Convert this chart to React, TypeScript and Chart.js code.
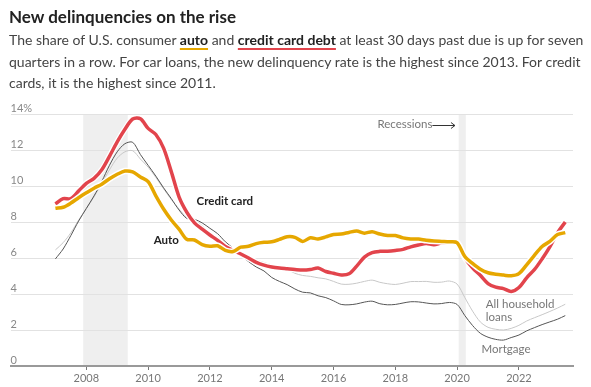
import React, { useEffect, useRef } from "react";
import { Chart, registerables } from "chart.js";

Chart.register(...registerables);

// Quarterly, 2007 Q1 .. 2023 Q3
const startYear = 2007;
const creditCard = [
  9.0, 9.3, 9.3, 9.72, 10.15, 10.42, 10.9, 11.65, 12.45, 13.15, 13.72, 13.74,
  13.2, 12.86, 12.1, 10.8, 9.4, 8.55, 7.95, 7.6, 7.28, 6.98, 6.64, 6.42,
  6.22, 6.0, 5.76, 5.6, 5.5, 5.44, 5.4, 5.36, 5.33, 5.36, 5.44, 5.25,
  5.15, 5.06, 5.12, 5.55, 6.05, 6.3, 6.37, 6.38, 6.42, 6.48, 6.62, 6.72,
  6.8, 6.74, 6.84, 6.86, 6.82, 6.0, 5.46, 5.04, 4.58, 4.38, 4.3, 4.14,
  4.36, 4.9, 5.35, 5.95, 6.62, 7.4, 8.0,
];
const auto = [
  8.76, 8.82, 9.05, 9.35, 9.62, 9.88, 10.1, 10.4, 10.65, 10.83, 10.78, 10.5,
  10.24, 9.45, 8.72, 8.11, 7.6, 7.04, 7.0, 6.74, 6.65, 6.68, 6.42, 6.36,
  6.6, 6.65, 6.8, 6.87, 6.9, 7.03, 7.18, 7.15, 6.92, 7.12, 7.06, 7.17,
  7.31, 7.33, 7.42, 7.5, 7.38, 7.46, 7.33, 7.25, 7.25, 7.12, 7.06, 7.05,
  6.98, 6.94, 6.92, 6.9, 6.85, 6.08, 5.7, 5.38, 5.18, 5.1, 5.05, 5.01,
  5.13, 5.62, 6.15, 6.64, 6.92, 7.3, 7.41,
];
const mortgage = [
  5.95, 6.5, 7.25, 8.05, 8.75, 9.45, 10.25, 11.15, 11.9, 12.35, 12.43, 11.75,
  11.15, 10.55, 9.9, 9.3, 8.67, 8.2, 8.15, 7.95, 7.65, 7.35, 6.9, 6.55,
  6.15, 5.8, 5.5, 5.28, 4.92, 4.7, 4.52, 4.28, 4.1, 4.06, 3.9, 3.8,
  3.62, 3.42, 3.4, 3.45, 3.55, 3.6, 3.46, 3.4, 3.42, 3.5, 3.57, 3.56,
  3.5, 3.45, 3.47, 3.53, 3.42, 2.8, 2.25, 1.82, 1.6, 1.48, 1.44, 1.58,
  1.72, 1.95, 2.13, 2.3, 2.45, 2.6, 2.8,
];
const allHousehold = [
  6.45, 6.85, 7.4, 8.1, 8.75, 9.4, 10.15, 10.9, 11.55, 11.9, 11.96, 11.5,
  11.05, 10.48, 9.85, 9.25, 8.72, 8.26, 8.1, 7.8, 7.4, 7.05, 6.75, 6.5,
  6.22, 6.05, 5.89, 5.75, 5.62, 5.48, 5.36, 5.15, 5.03, 4.98, 4.9, 4.84,
  4.7, 4.55, 4.54, 4.6, 4.7, 4.77, 4.65, 4.57, 4.53, 4.6, 4.69, 4.69,
  4.7, 4.65, 4.66, 4.72, 4.55, 3.8, 3.05, 2.45, 2.15, 2.04, 2.0, 2.09,
  2.26, 2.5, 2.68, 2.85, 3.03, 3.22, 3.43,
];
const xTickYears = [2008, 2010, 2012, 2014, 2016, 2018, 2020, 2022];
const yTickValues = [0, 2, 4, 6, 8, 10, 12, 14];
const recessionStarts = [2007.9, 2020.05];
const recessionEnds = [2009.34, 2020.28];

const annotations = [
  { text: "Credit card", x: 2011.57, y: 9.15, bold: true, color: "#222" },
  { text: "Auto", x: 2010.18, y: 7.0, bold: true, color: "#222" },
  { text: "Recessions", x: 2017.42, y: 13.44, bold: false, color: "#777" },
  { text: "All household", x: 2020.93, y: 3.44, bold: false, color: "#777" },
  { text: "loans", x: 2020.93, y: 2.69, bold: false, color: "#777" },
  { text: "Mortgage", x: 2020.79, y: 0.92, bold: false, color: "#777" },
];
const arrowFrom = 2019.2;
const arrowTo = 2019.93;
const arrowY = 13.4;

const FONT = "Lato, 'Noto Sans', sans-serif";

const toPoints = (arr: number[]) => arr.map((v, i) => ({ x: startYear + i / 4, y: v }));

const recessionPlugin = {
  id: "recessions",
  beforeDraw(chart: any) {
    const { ctx, chartArea, scales } = chart;
    ctx.save();
    ctx.fillStyle = "#efefef";
    recessionStarts.forEach((s, i) => {
      const x0 = scales.x.getPixelForValue(s);
      const x1 = scales.x.getPixelForValue(recessionEnds[i]);
      ctx.fillRect(x0, chartArea.top, x1 - x0, chartArea.bottom - chartArea.top);
    });
    ctx.restore();
  },
};

const annotationPlugin = {
  id: "annots",
  afterDatasetsDraw(chart: any) {
    const { ctx, scales } = chart;
    ctx.save();
    ctx.textBaseline = "middle";
    ctx.textAlign = "left";
    annotations.forEach((a) => {
      ctx.font = `${a.bold ? "bold " : ""}11.5px ${FONT}`;
      ctx.fillStyle = a.color;
      ctx.fillText(a.text, scales.x.getPixelForValue(a.x), scales.y.getPixelForValue(a.y));
    });
    const ax0 = scales.x.getPixelForValue(arrowFrom);
    const ax1 = scales.x.getPixelForValue(arrowTo);
    const ay = Math.round(scales.y.getPixelForValue(arrowY)) + 0.5;
    ctx.strokeStyle = "#333";
    ctx.lineWidth = 1;
    ctx.beginPath();
    ctx.moveTo(ax0, ay);
    ctx.lineTo(ax1, ay);
    ctx.moveTo(ax1 - 4, ay - 3);
    ctx.lineTo(ax1, ay);
    ctx.lineTo(ax1 - 4, ay + 3);
    ctx.stroke();
    ctx.restore();
  },
};

export default function App() {
  const ref = useRef<HTMLCanvasElement | null>(null);
  useEffect(() => {
    document.body.style.margin = "0";
    if (!ref.current) return;
    const line = (data: number[], color: string, width: number, order: number) => ({
      data: toPoints(data),
      borderColor: color,
      borderWidth: width,
      pointRadius: 0,
      tension: 0.3,
      fill: false,
      order,
    });
    const chart = new Chart(ref.current, {
      type: "line",
      data: {
        datasets: [
          line(auto, "#e6a700", 3.5, 1),
          line(auto, "#ffffff", 6.5, 2),
          line(creditCard, "#e2444c", 3.5, 3),
          line(creditCard, "#ffffff", 6, 4),
          line(mortgage, "#555555", 1, 5),
          line(allHousehold, "#c8c8c8", 1, 6),
        ],
      },
      options: {
        animation: false,
        responsive: false,
        devicePixelRatio: 1,
        layout: { padding: { left: 10.6, right: 18, top: 114, bottom: 0 } },
        plugins: { legend: { display: false }, tooltip: { enabled: false }, title: { display: false } },
        scales: {
          x: {
            type: "linear",
            min: 2005.55,
            max: 2023.75,
            afterBuildTicks: (s: any) => {
              s.ticks = xTickYears.map((v) => ({ value: v }));
            },
            afterFit: (s: any) => {
              s.height = 21;
            },
            grid: { drawOnChartArea: false, drawTicks: true, tickLength: 4, color: "#777" },
            border: { display: true, color: "#999", width: 2 },
            ticks: {
              color: "#777",
              padding: 2,
              font: { family: FONT, size: 11 },
              callback: (v: any) => String(v),
              maxRotation: 0,
            },
          },
          y: {
            min: 0,
            max: 14,
            afterBuildTicks: (s: any) => {
              s.ticks = yTickValues.map((v) => ({ value: v }));
            },
            afterFit: (s: any) => {
              s.width = 0;
            },
            grid: { drawTicks: false, color: "#e2e2e2", lineWidth: 1 },
            border: { display: false },
            ticks: {
              mirror: true,
              padding: 0,
              labelOffset: -6,
              color: "#888",
              font: { family: FONT, size: 11 },
              callback: (v: any) => (v === 14 ? "14%" : String(v)),
            },
          },
        },
      },
      plugins: [recessionPlugin, annotationPlugin],
    } as any);
    return () => chart.destroy();
  }, []);

  const u = (color: string) => ({
    fontWeight: 700,
    color: "#222",
    textDecoration: "underline",
    textDecorationColor: color,
    textDecorationThickness: "2px",
    textUnderlineOffset: "3px",
  });

  return (
    <div style={{ position: "relative", width: 591, height: 387, background: "#fff" }}>
      <canvas ref={ref} width={591} height={387} style={{ position: "absolute", left: 0, top: 0, width: 591, height: 387 }} />
      <div style={{ position: "absolute", left: 9, top: 6, width: 580, fontFamily: FONT }}>
        <div style={{ fontSize: 17, fontWeight: 700, color: "#222", lineHeight: "22px" }}>New delinquencies on the rise</div>
        <div style={{ fontSize: 14, color: "#444", lineHeight: "21.5px", marginTop: 1 }}>
          The share of U.S. consumer <span style={u("#e6a700")}>auto</span> and{" "}
          <span style={u("#e2444c")}>credit card debt</span> at least 30 days past due is up for seven quarters in a row. For car loans, the new delinquency rate is the highest since 2013. For credit cards, it is the highest since 2011.
        </div>
      </div>
    </div>
  );
}
